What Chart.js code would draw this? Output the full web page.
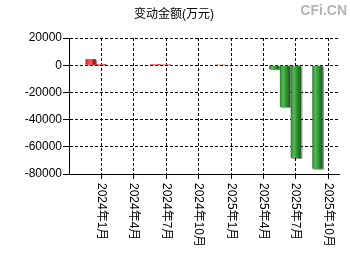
<!DOCTYPE html>
<html>
<head>
<meta charset="utf-8">
<script src="https://cdn.jsdelivr.net/npm/chart.js@4/dist/chart.umd.min.js"></script>
<style>
  html, body { margin: 0; padding: 0; background: #fff; }
  #wrap { width: 350px; height: 260px; position: relative; }
</style>
</head>
<body>
<div id="wrap"><canvas id="chart"></canvas></div>
<script>
// 变动金额 chart - monthly bars

const months = [
  '2023年10月', '2023年11月', '2023年12月', '2024年1月', '2024年2月', '2024年3月',
  '2024年4月', '2024年5月', '2024年6月', '2024年7月', '2024年8月', '2024年9月',
  '2024年10月', '2024年11月', '2024年12月', '2025年1月', '2025年2月', '2025年3月',
  '2025年4月', '2025年5月', '2025年6月', '2025年7月', '2025年8月', '2025年9月',
  '2025年10月', '2025年11月'
];
const changeValues = [
  null, null, 4500, 900, null, null,
  null, null, 900, 700, null, null,
  null, null, 600, null, null, null,
  null, -3000, -30700, -68200, null, -76200,
  null, null
];
const tickLabels = ['2024年1月', '2024年4月', '2024年7月', '2024年10月', '2025年1月', '2025年4月', '2025年7月', '2025年10月'];
const yTicks = [20000, 0, -20000, -40000, -60000, -80000];

const FONT = '"Liberation Sans", Arial, "Noto Sans CJK SC", sans-serif';

// per-bar horizontal gradient (cylinder look)
function barFill(c) {
  const v = c.raw;
  const chart = c.chart;
  const xs = chart.scales.x;
  const red = ['#e01818', '#ff4040', '#f06060', '#c01010', '#901010'];
  const green = ['#2e7d2e', '#5cb85c', '#2ea02e', '#267a26', '#1f5a1f'];
  const cols = v >= 0 ? red : green;
  if (!xs || !chart.chartArea) return cols[2];
  const x = xs.getPixelForValue(c.dataIndex);
  const g = chart.ctx.createLinearGradient(x - 5, 0, x + 5, 0);
  g.addColorStop(0, cols[0]);
  g.addColorStop(0.3, cols[1]);
  g.addColorStop(0.55, cols[2]);
  g.addColorStop(0.8, cols[3]);
  g.addColorStop(1, cols[4]);
  return g;
}

const isTick = idx => tickLabels.includes(months[idx]);

const decorPlugin = {
  id: 'decor',
  beforeDatasetsDraw(chart) {
    const ctx = chart.ctx;
    ctx.save();
    ctx.shadowColor = 'rgba(0,0,0,0.4)';
    ctx.shadowOffsetX = 1.5;
    ctx.shadowOffsetY = 1;
    ctx.shadowBlur = 0;
  },
  afterDatasetsDraw(chart) {
    chart.ctx.restore();
  },
  afterDraw(chart) {
    const ctx = chart.ctx;
    const xs = chart.scales.x;

    // title
    ctx.save();
    ctx.fillStyle = '#000';
    ctx.font = '12px ' + FONT;
    ctx.textAlign = 'center';
    ctx.textBaseline = 'middle';
    ctx.fillText('变动金额(万元)', 174, 15);

    // watermark
    ctx.fillStyle = '#b4b4b4';
    ctx.font = 'bold 14px ' + FONT;
    ctx.textAlign = 'right';
    ctx.fillText('CFi.CN', 347, 11);

    // x labels, rotated clockwise
    ctx.fillStyle = '#000';
    ctx.font = '12px ' + FONT;
    ctx.textAlign = 'left';
    tickLabels.forEach(t => {
      const x = xs.getPixelForValue(months.indexOf(t));
      ctx.save();
      ctx.translate(x, xs.top + 9);
      ctx.rotate(Math.PI / 2);
      ctx.fillText(t, 0, 0);
      ctx.restore();
    });
    ctx.restore();
  }
};

new Chart(document.getElementById('chart'), {
  type: 'bar',
  data: {
    labels: months,
    datasets: [{
      data: changeValues,
      backgroundColor: barFill,
      borderWidth: 0,
      barPercentage: 0.95,
      categoryPercentage: 1
    }]
  },
  options: {
    responsive: true,
    maintainAspectRatio: false,
    animation: false,
    layout: { padding: { top: 38, right: 11, left: 0, bottom: 0 } },
    plugins: {
      legend: { display: false },
      tooltip: { enabled: false },
      title: { display: false }
    },
    scales: {
      x: {
        offset: false,
        grid: {
          offset: false,
          color: c => isTick(c.index) ? '#000' : 'rgba(0,0,0,0)',
          lineWidth: 1,
          drawTicks: true,
          tickLength: 5,
          tickBorderDash: []
        },
        border: { display: true, color: '#000', width: 1, dash: [3, 2] },
        ticks: { display: false, autoSkip: false },
        afterFit(s) { s.height = 86; }
      },
      y: {
        min: -80000,
        max: 20000,
        afterBuildTicks(s) { s.ticks = yTicks.map(v => ({ value: v })); },
        grid: {
          color: '#000',
          lineWidth: 1,
          drawTicks: true,
          tickLength: 6,
          tickBorderDash: []
        },
        border: { display: true, color: '#000', width: 1, dash: [3, 2] },
        ticks: {
          color: '#000',
          padding: 1,
          font: { size: 12, family: FONT },
          callback: v => String(v)
        },
        afterFit(s) { s.width = 69; }
      }
    }
  },
  plugins: [decorPlugin]
});
</script>
</body>
</html>
